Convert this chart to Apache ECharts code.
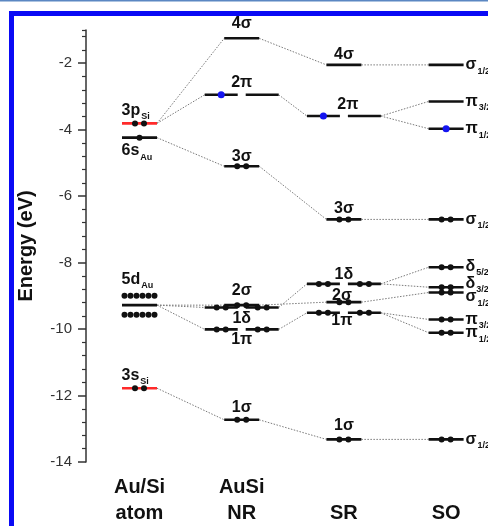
<!DOCTYPE html>
<html><head><meta charset="utf-8">
<script src="https://cdn.jsdelivr.net/npm/echarts@6/dist/echarts.min.js"></script>
<style>html,body{margin:0;padding:0;background:#fff}#c{width:488px;height:526px}</style>
</head><body><div id="c"></div>
<script>
// ---------------- data ----------------
const columnLabels = ['Au/Si\natom', 'AuSi\nNR', '\nSR', '\nSO'];
const yTickValues = [-14, -12, -10, -8, -6, -4, -2];

// atomic levels (column 0)
const atomMain = ['3p', '6s', '5d', '3s'];
const atomSub = ['Si', 'Au', 'Au', 'Si'];
const atomEnergy = [-3.81, -4.24, -9.28, -11.78];
const atomElectrons = [2, 1, 12, 2];

// non-relativistic AuSi (column 1)
const nrNames = ['4σ', '2π', '3σ', '2σ', '1δ', '1π', '1σ'];
const nrEnergy = [-1.25, -2.95, -5.10, -9.28, -9.35, -10.01, -12.73];
const nrDegeneracy = [1, 2, 1, 1, 2, 2, 1];
const nrElectrons = [0, 1, 2, 2, 4, 4, 2];

// scalar relativistic (column 2)
const srNames = ['4σ', '2π', '3σ', '1δ', '2σ', '1π', '1σ'];
const srEnergy = [-2.05, -3.59, -6.70, -8.64, -9.19, -9.51, -13.32];
const srDegeneracy = [1, 2, 1, 2, 1, 2, 1];
const srElectrons = [0, 1, 2, 4, 2, 4, 2];

// spin-orbit (column 3)
const soMain = ['σ', 'π', 'π', 'σ', 'δ', 'δ', 'σ', 'π', 'π', 'σ'];
const soSub = ['1/2', '3/2', '1/2', '1/2', '5/2', '3/2', '1/2', '3/2', '1/2', '1/2'];
const soEnergy = [-2.05, -3.15, -3.97, -6.70, -8.14, -8.74, -8.90, -9.71, -10.11, -13.32];
const soElectrons = [0, 0, 1, 2, 2, 2, 2, 2, 2, 2];

// correlation lines [from index, to index]
const atomToNR = [[0, 0], [0, 1], [1, 2], [2, 3], [2, 4], [2, 5], [3, 6]];
const nrToSR = [[0, 0], [1, 1], [2, 2], [4, 3], [3, 4], [5, 5], [6, 6]];
const srToSO = [[0, 0], [1, 1], [1, 2], [2, 3], [3, 4], [3, 5], [4, 6], [5, 7], [5, 8], [6, 9]];

// ---------------- styles ----------------
const FONT = '"Liberation Sans", Arial, Helvetica, sans-serif';
const INK = '#111';
const RED = '#ff2a2a';
const BLUE = '#1414f0';
const HW1 = 17.5, HW2 = 16.5, PAIR_DX = 20.5;
const atomLabelDy = [-13, 13, -26, -13];
const nrLabelOff = [[0, -15], [0, -12], [0, -10], [0, -15], [0, 11], [0, 10], [0, -12]];
const srLabelOff = [[0, -10], [4, -11], [0, -11], [0, -9], [-2, -7], [-2, 8], [0, -14]];
const soLabelDy = [0, 0, 0, 0, -1, -4, 4, 0, 0, 0];

// ---------------- build ----------------
const segs = [];
function addLevel(col, E, deg, e, color, dotColorFn) {
  if (deg === 1) {
    segs.push({col, E, dx: 0, hw: HW1, n: e, color, dotColor: dotColorFn(e)});
  } else {
    const l = Math.min(2, e), r = e - l;
    segs.push({col, E, dx: -PAIR_DX, hw: HW2, n: l, color, dotColor: dotColorFn(l)});
    segs.push({col, E, dx: PAIR_DX, hw: HW2, n: r, color, dotColor: dotColorFn(r)});
  }
}
atomEnergy.forEach((E, i) => addLevel(0, E, 1, atomElectrons[i], atomSub[i] === 'Si' ? RED : INK, () => INK));
const molDot = n => (n % 2 === 1 ? BLUE : INK);
nrEnergy.forEach((E, i) => addLevel(1, E, nrDegeneracy[i], nrElectrons[i], INK, molDot));
srEnergy.forEach((E, i) => addLevel(2, E, srDegeneracy[i], srElectrons[i], INK, molDot));
soEnergy.forEach((E, i) => addLevel(3, E, 1, soElectrons[i], INK, molDot));

const colE = [atomEnergy, nrEnergy, srEnergy, soEnergy];
const colDeg = [atomEnergy.map(() => 1), nrDegeneracy, srDegeneracy, soEnergy.map(() => 1)];
const links = [];
[[0, atomToNR], [1, nrToSR], [2, srToSO]].forEach(([c, list]) => {
  list.forEach(([a, b]) => {
    links.push({c1: c, E1: colE[c][a], ext1: colDeg[c][a] === 1 ? HW1 : PAIR_DX + HW2,
                c2: c + 1, E2: colE[c + 1][b], ext2: colDeg[c + 1][b] === 1 ? HW1 : PAIR_DX + HW2});
  });
});

const labels = [];
atomEnergy.forEach((E, i) => labels.push({col: 0, E, text: '{m|' + atomMain[i] + '}{s|' + atomSub[i] + '}', dx: -18, dy: atomLabelDy[i], align: 'left'}));
nrEnergy.forEach((E, i) => labels.push({col: 1, E, text: '{m|' + nrNames[i] + '}', dx: nrLabelOff[i][0], dy: nrLabelOff[i][1], align: 'center'}));
srEnergy.forEach((E, i) => labels.push({col: 2, E, text: '{m|' + srNames[i] + '}', dx: srLabelOff[i][0], dy: srLabelOff[i][1], align: 'center'}));
soEnergy.forEach((E, i) => labels.push({col: 3, E, text: '{m|' + soMain[i] + '}{s|' + soSub[i] + '}', dx: HW1 + 2, dy: soLabelDy[i], align: 'left'}));

function dotOffsets(n) {
  if (n === 0) return [];
  if (n === 1) return [[0, 0]];
  if (n === 2) return [[-4.5, 0], [4.5, 0]];
  const out = [];
  const per = n / 2;
  for (let r = 0; r < 2; r++) for (let k = 0; k < per; k++) out.push([-15 + 6 * k, r === 0 ? -9.5 : 9.5]);
  return out;
}

const rich = {
  m: {fontSize: 16, fontWeight: 'bold', fontFamily: FONT, fill: INK, lineHeight: 18},
  s: {fontSize: 9, fontWeight: 'bold', fontFamily: FONT, fill: INK, lineHeight: 9, padding: [13, 0, 0, 1]}
};

const yMinor = [];
for (let v = -13.6; v <= -0.99; v += 0.4) {
  const r = Math.round(v * 10) / 10;
  if (Math.abs(r % 2) > 0.01) yMinor.push(r);
}
yMinor.push(-1);

const chart = echarts.init(document.getElementById('c'), null, {renderer: 'canvas'});
chart.setOption({
  backgroundColor: '#fff',
  animation: false,
  grid: {left: 86, right: 0, top: 30, bottom: 60, containLabel: false},
  xAxis: {
    type: 'value', min: -0.5235, max: 3.41,
    axisLine: {show: false, onZero: false}, axisTick: {show: false}, splitLine: {show: false},
    axisLabel: {
      customValues: [0, 1, 2, 3],
      formatter: v => columnLabels[Math.round(v)],
      fontSize: 20, fontWeight: 'bold', fontFamily: FONT, color: INK, lineHeight: 26, margin: 12
    }
  },
  yAxis: [{
    type: 'value', min: -14, max: -1, position: 'left',
    axisLine: {show: true, onZero: false, lineStyle: {color: '#333', width: 1.5}},
    axisTick: {show: true, length: 8, customValues: yTickValues, lineStyle: {color: '#333', width: 1.5}},
    axisLabel: {customValues: yTickValues, fontSize: 15, fontFamily: FONT, color: '#333', margin: 14},
    splitLine: {show: false},
    name: 'Energy (eV)', nameLocation: 'middle', nameGap: 50, nameRotate: 90,
    nameTextStyle: {fontSize: 20, fontWeight: 'bold', fontFamily: FONT, color: INK}
  }, {
    type: 'value', min: -14, max: -1, position: 'left',
    axisLine: {show: false, onZero: false},
    axisTick: {show: true, length: 4, customValues: yMinor, lineStyle: {color: '#333', width: 1.2}},
    axisLabel: {show: false}, splitLine: {show: false}
  }],
  graphic: [
    {type: 'rect', shape: {x: 0, y: 0, width: 488, height: 1.5}, style: {fill: '#5b87c2'}, z: 100},
    {type: 'rect', shape: {x: 9, y: 11, width: 479, height: 5}, style: {fill: '#0a0af5'}, z: 100},
    {type: 'rect', shape: {x: 9, y: 11, width: 5, height: 515}, style: {fill: '#0a0af5'}, z: 100}
  ],
  series: [{
    type: 'custom', name: 'links', clip: false, z: 1, silent: true,
    data: links.map(l => [l.c1, l.E1, l.c2, l.E2]),
    renderItem(params, api) {
      const l = links[params.dataIndex];
      const p1 = api.coord([l.c1, l.E1]);
      const p2 = api.coord([l.c2, l.E2]);
      return {type: 'line', shape: {x1: p1[0] + l.ext1, y1: p1[1], x2: p2[0] - l.ext2, y2: p2[1]},
        style: {stroke: '#7a7a7a', lineWidth: 1, lineDash: [1.5, 1.5]}};
    }
  }, {
    type: 'custom', name: 'levels', clip: false, z: 2, silent: true,
    data: segs.map(s => [s.col, s.E]),
    renderItem(params, api) {
      const s = segs[params.dataIndex];
      const p = api.coord([s.col, s.E]);
      const cx = p[0] + s.dx, cy = p[1];
      const ch = [{type: 'line', shape: {x1: cx - s.hw, y1: cy, x2: cx + s.hw, y2: cy}, style: {stroke: s.color, lineWidth: 2.6}}];
      dotOffsets(s.n).forEach(([ox, oy]) => ch.push({type: 'circle', shape: {cx: cx + ox, cy: cy + oy, r: s.dotColor === BLUE ? 3.5 : 3}, style: {fill: s.dotColor}}));
      return {type: 'group', children: ch};
    }
  }, {
    type: 'custom', name: 'labels', clip: false, z: 3, silent: true,
    data: labels.map(l => [l.col, l.E]),
    renderItem(params, api) {
      const l = labels[params.dataIndex];
      const p = api.coord([l.col, l.E]);
      return {type: 'text', x: p[0] + l.dx, y: p[1] + l.dy,
        style: {text: l.text, rich, align: l.align, verticalAlign: 'middle', fill: INK}};
    }
  }]
});
</script></body></html>
